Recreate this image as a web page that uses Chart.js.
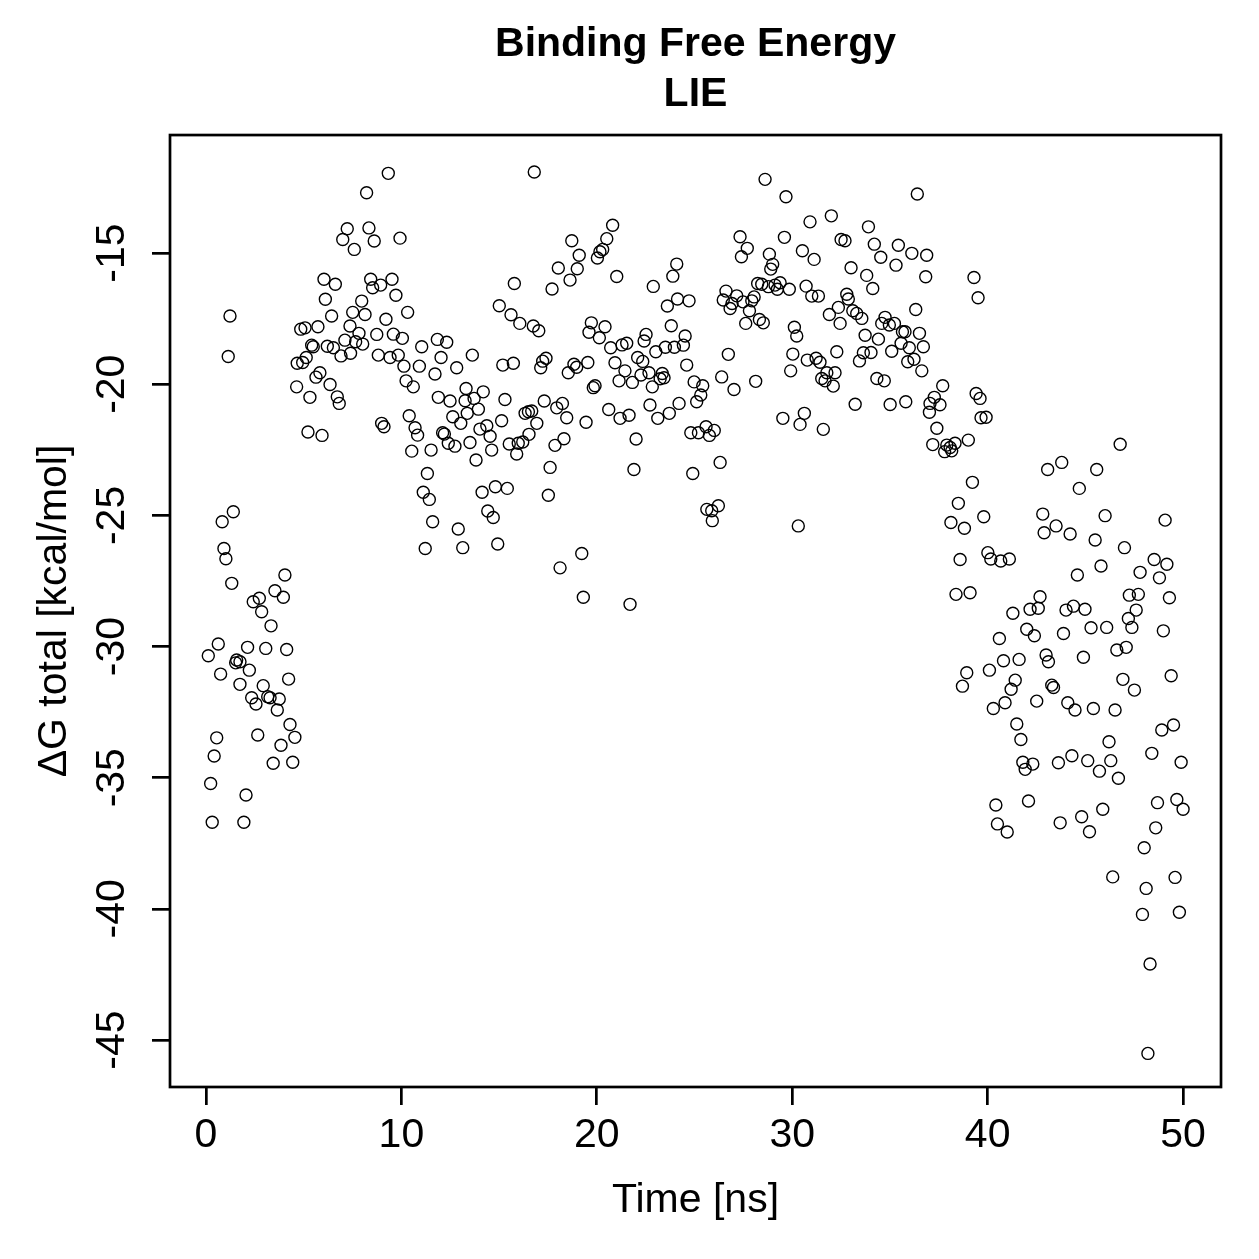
<!DOCTYPE html>
<html>
<head>
<meta charset="utf-8">
<script src="https://cdn.jsdelivr.net/npm/chart.js@4.4.1/dist/chart.umd.min.js"></script>
<style>
html,body{margin:0;padding:0;background:#fff;}
#wrap{width:1259px;height:1259px;}
</style>
</head>
<body>
<div id="wrap"><canvas id="c" width="1259" height="1259"></canvas></div>
<script>
const chartTitle = ['Binding Free Energy', 'LIE'];
const xAxisTitle = 'Time [ns]';
const yAxisTitle = 'ΔG total [kcal/mol]';
const xTicks = [0, 10, 20, 30, 40, 50];
const yTicks = [-45, -40, -35, -30, -25, -20, -15];

const timeNs = [
0.12,0.24,0.32,0.42,0.55,0.63,0.75,0.83,0.92,1.02,
1.14,1.23,1.32,1.40,1.52,1.57,1.74,1.74,1.94,2.05,
2.13,2.22,2.34,2.42,2.56,2.65,2.73,2.85,2.93,3.06,
3.16,3.28,3.33,3.44,3.53,3.65,3.75,3.84,3.96,4.04,
4.13,4.23,4.30,4.44,4.55,4.64,4.67,4.85,4.95,5.07,
5.13,5.22,5.32,5.41,5.49,5.63,5.73,5.83,5.94,6.04,
6.11,6.21,6.35,6.43,6.52,6.62,6.72,6.82,6.91,7.00,
7.11,7.23,7.37,7.40,7.51,7.59,7.66,7.83,7.97,8.02,
8.14,8.22,8.34,8.43,8.53,8.61,8.74,8.82,8.94,8.99,
9.11,9.21,9.33,9.42,9.52,9.59,9.72,9.84,9.93,10.05,
10.13,10.24,10.32,10.40,10.53,10.61,10.70,10.83,10.92,11.04,
11.12,11.22,11.33,11.43,11.52,11.60,11.72,11.84,11.89,12.03,
12.11,12.20,12.32,12.40,12.49,12.63,12.74,12.83,12.91,13.04,
13.14,13.26,13.31,13.37,13.51,13.63,13.72,13.82,13.94,14.02,
14.13,14.19,14.37,14.42,14.54,14.62,14.70,14.81,14.93,15.01,
15.13,15.19,15.30,15.42,15.52,15.61,15.73,15.78,15.90,15.98,
16.06,16.21,16.33,16.50,16.53,16.67,16.75,16.80,16.93,17.03,
17.13,17.23,17.31,17.40,17.52,17.61,17.71,17.86,17.95,18.03,
18.12,18.24,18.32,18.46,18.54,18.63,18.72,18.83,18.97,19.00,
19.10,19.23,19.31,19.45,19.54,19.60,19.72,19.82,19.91,20.03,
20.13,20.16,20.30,20.42,20.51,20.61,20.71,20.81,20.93,21.02,
21.14,21.19,21.29,21.44,21.53,21.65,21.70,21.82,21.90,22.01,
22.09,22.26,22.35,22.42,22.52,22.67,22.72,22.84,22.89,23.02,
23.12,23.24,23.35,23.44,23.51,23.61,23.71,23.81,23.89,23.97,
24.09,24.13,24.21,24.43,24.52,24.60,24.72,24.81,24.91,24.98,
25.11,25.20,25.32,25.42,25.59,25.63,25.76,25.88,25.91,26.01,
26.22,26.31,26.39,26.47,26.61,26.73,26.82,26.92,27.02,27.16,
27.33,27.40,27.48,27.62,27.70,27.81,27.93,28.05,28.13,28.23,
28.32,28.44,28.52,28.61,28.78,28.83,28.90,29.00,29.12,29.24,
29.38,29.52,29.60,29.68,29.85,29.92,30.03,30.11,30.23,30.31,
30.40,30.52,30.62,30.71,30.77,30.91,31.00,31.12,31.22,31.34,
31.42,31.51,31.59,31.68,31.77,31.90,32.00,32.10,32.19,32.28,
32.36,32.45,32.50,32.70,32.79,32.87,33.01,33.10,33.22,33.30,
33.44,33.56,33.64,33.73,33.81,33.90,34.03,34.12,34.20,34.33,
34.41,34.53,34.58,34.71,34.75,34.97,35.01,35.09,35.23,35.31,
35.43,35.57,35.64,35.77,35.81,35.91,35.99,36.12,36.23,36.32,
36.40,36.51,36.63,36.71,36.83,36.88,37.02,37.05,37.27,37.19,
37.40,37.56,37.70,37.91,37.80,38.08,38.16,38.33,38.38,38.50,
38.59,38.12,38.71,38.81,38.93,39.01,39.10,39.22,39.30,39.41,
39.51,39.61,39.66,39.80,39.92,40.01,40.09,40.16,40.29,40.42,
40.50,40.60,40.67,40.81,40.89,41.00,41.11,41.20,41.29,41.41,
41.49,41.61,41.70,41.80,41.92,42.00,42.09,42.17,42.31,42.39,
42.51,42.59,42.68,42.82,42.89,42.99,43.07,43.11,43.28,43.37,
43.50,43.62,43.71,43.79,43.88,44.01,44.10,44.22,44.31,44.39,
44.47,44.59,44.69,44.81,44.90,44.98,45.12,45.21,45.29,45.41,
45.50,45.58,45.72,45.80,45.89,46.01,46.09,46.21,46.30,46.40,
46.52,46.61,46.69,46.78,46.92,47.00,47.09,47.20,47.25,47.38,
47.51,47.60,47.71,47.80,47.92,48.01,48.11,48.20,48.31,48.40,
48.52,48.60,48.69,48.79,48.91,48.99,49.08,49.17,49.30,49.39,
49.51,49.59,49.68,49.81,49.90,50.00
];

const deltaG = [
-30.35,-35.22,-36.70,-34.17,-33.48,-29.90,-31.05,-25.24,-26.26,-26.65,
-18.94,-17.40,-27.59,-24.86,-30.62,-30.51,-30.58,-31.44,-36.70,-35.66,
-30.03,-30.90,-31.95,-28.29,-32.19,-33.37,-28.16,-28.67,-31.49,-30.07,
-31.91,-31.95,-29.21,-34.45,-27.87,-32.42,-32.00,-33.76,-28.12,-27.27,
-30.11,-31.24,-32.97,-34.41,-33.46,-20.10,-19.20,-17.90,-19.17,-17.85,
-18.98,-21.82,-20.50,-18.51,-18.57,-19.73,-17.81,-19.56,-21.95,-16.00,
-16.76,-18.55,-20.01,-17.40,-18.61,-16.19,-20.48,-20.73,-18.92,-14.48,
-18.32,-14.07,-17.78,-18.82,-17.26,-14.86,-18.38,-18.06,-16.83,-18.47,
-17.34,-12.70,-14.04,-16.00,-16.32,-14.54,-18.10,-18.89,-16.22,-21.49,
-21.62,-17.52,-11.96,-18.98,-16.00,-18.09,-16.61,-18.89,-14.43,-18.25,
-19.31,-19.87,-17.26,-21.20,-22.55,-20.10,-21.66,-21.94,-19.31,-18.57,
-24.12,-26.26,-23.40,-24.39,-22.51,-25.24,-19.61,-18.29,-20.50,-18.98,
-21.85,-21.90,-18.40,-22.25,-20.64,-21.24,-22.36,-19.37,-25.52,-21.49,
-26.23,-20.63,-20.16,-21.11,-22.22,-18.89,-20.54,-22.89,-20.95,-21.71,
-24.12,-20.29,-21.58,-24.83,-21.98,-22.51,-25.08,-23.91,-26.09,-17.01,
-21.39,-19.27,-20.58,-23.97,-22.28,-17.35,-19.20,-16.16,-22.66,-22.25,
-17.68,-22.20,-21.11,-21.05,-21.91,-21.02,-17.78,-11.91,-21.49,-17.96,
-19.37,-19.12,-20.64,-19.01,-24.23,-23.17,-16.37,-22.33,-20.90,-15.57,
-27.00,-20.73,-22.08,-21.28,-19.56,-16.03,-14.53,-19.24,-19.35,-15.60,
-15.08,-26.45,-28.12,-21.45,-19.17,-18.02,-17.66,-20.13,-20.06,-15.19,
-18.23,-14.95,-14.86,-17.81,-14.45,-20.96,-18.61,-13.94,-19.18,-15.89,
-19.87,-21.30,-18.50,-19.49,-18.44,-21.18,-28.39,-19.93,-23.25,-22.09,
-18.98,-19.65,-19.13,-18.35,-18.10,-19.56,-20.79,-20.10,-16.27,-18.76,
-21.30,-19.79,-19.59,-19.75,-18.59,-17.02,-21.11,-17.77,-15.88,-18.59,
-15.42,-16.75,-20.73,-18.51,-18.16,-19.27,-16.82,-21.85,-23.40,-19.91,
-20.67,-21.85,-20.41,-20.06,-21.62,-24.77,-21.95,-24.82,-25.20,-21.76,
-24.63,-22.98,-19.72,-16.79,-16.45,-18.86,-17.11,-16.92,-20.20,-16.63,
-14.38,-15.14,-16.86,-17.68,-14.82,-17.20,-16.82,-16.67,-19.89,-16.16,
-17.53,-16.19,-17.66,-12.19,-16.28,-15.04,-15.61,-15.43,-16.22,-16.38,
-16.13,-21.30,-14.40,-12.85,-16.38,-19.49,-18.85,-17.83,-18.16,-25.40,
-21.53,-14.91,-21.11,-16.26,-19.08,-13.81,-16.64,-15.24,-19.01,-16.64,
-19.16,-19.78,-21.72,-19.87,-19.56,-17.34,-13.58,-20.07,-19.56,-18.76,
-17.07,-17.68,-14.48,-14.53,-16.57,-16.75,-15.56,-17.20,-20.76,-17.30,
-19.11,-17.49,-18.80,-18.13,-15.85,-14.00,-18.79,-16.35,-14.66,-19.78,
-18.28,-15.16,-17.68,-19.87,-17.45,-17.74,-20.77,-18.74,-17.68,-15.46,
-14.70,-18.44,-18.00,-18.00,-20.67,-19.14,-18.61,-15.01,-19.05,-17.15,
-12.75,-18.06,-19.49,-18.57,-15.90,-15.08,-21.07,-20.73,-20.50,-22.30,
-21.68,-20.78,-20.06,-22.32,-22.57,-22.41,-22.54,-22.25,-28.01,-24.54,
-26.68,-25.27,-31.51,-25.49,-31.00,-22.13,-27.95,-23.74,-15.93,-20.35,
-16.70,-20.54,-21.28,-25.05,-21.26,-26.42,-30.90,-26.66,-32.36,-36.04,
-36.76,-29.69,-26.74,-30.54,-32.14,-37.07,-26.66,-31.63,-28.73,-31.28,
-32.95,-30.49,-33.54,-34.41,-34.68,-29.34,-35.89,-28.58,-34.48,-29.59,
-32.08,-28.54,-28.10,-24.95,-25.66,-30.32,-23.25,-30.58,-31.47,-31.56,
-25.40,-34.43,-36.72,-22.98,-29.50,-28.61,-32.14,-25.71,-34.16,-28.46,
-32.42,-27.27,-23.97,-36.49,-30.41,-28.58,-34.35,-37.06,-29.28,-32.36,
-25.94,-23.25,-34.75,-26.93,-36.20,-25.01,-29.27,-33.63,-34.35,-38.78,
-32.42,-30.13,-35.02,-22.29,-31.25,-26.23,-30.03,-28.93,-28.04,-29.27,
-31.66,-28.61,-28.01,-27.17,-40.21,-37.67,-39.22,-45.51,-42.10,-34.07,
-26.68,-36.91,-35.95,-27.38,-33.18,-29.40,-25.18,-26.86,-28.14,-31.11,
-32.99,-38.80,-35.83,-40.13,-34.41,-36.20
];

const FONT = "'Liberation Sans', Arial, Helvetica, sans-serif";
const AXIS_FONT_SIZE = 41;
Chart.defaults.font.family = FONT;
Chart.defaults.color = '#000';

const points = timeNs.map((t, i) => ({ x: t, y: deltaG[i] }));

const LINE_W = 2.7;

const frameAndYLabels = {
  id: 'frameAndYLabels',
  afterDraw(chart) {
    const ctx = chart.ctx;
    const a = chart.chartArea;
    ctx.save();
    ctx.strokeStyle = '#000';
    ctx.lineWidth = LINE_W;
    ctx.strokeRect(a.left, a.top, a.right - a.left, a.bottom - a.top);
    const ys = chart.scales.y;
    ctx.fillStyle = '#000';
    ctx.font = AXIS_FONT_SIZE + 'px ' + FONT;
    ctx.textAlign = 'center';
    ctx.textBaseline = 'alphabetic';
    ys.ticks.forEach(tk => {
      const py = ys.getPixelForValue(tk.value);
      ctx.save();
      ctx.translate(124, py);
      ctx.rotate(-Math.PI / 2);
      ctx.fillText(String(tk.value), 0, 0);
      ctx.restore();
    });
    ctx.restore();
  }
};

new Chart(document.getElementById('c'), {
  type: 'scatter',
  data: {
    datasets: [{
      data: points,
      pointStyle: 'circle',
      pointRadius: 6,
      pointHoverRadius: 6,
      borderColor: '#000',
      backgroundColor: 'rgba(0,0,0,0)',
      borderWidth: 1.4
    }]
  },
  options: {
    responsive: false,
    animation: false,
    devicePixelRatio: 1,
    layout: { padding: { left: 0, right: 38, top: 0, bottom: 0 } },
    plugins: {
      legend: { display: false },
      tooltip: { enabled: false },
      title: {
        display: true,
        text: chartTitle,
        fullSize: false,
        color: '#000',
        font: { family: FONT, size: 41, weight: 'bold', lineHeight: 1.22 },
        padding: { top: 20, bottom: 15 }
      }
    },
    scales: {
      x: {
        type: 'linear',
        min: -1.84,
        max: 51.94,
        afterBuildTicks: s => { s.ticks = xTicks.map(v => ({ value: v })); },
        afterFit: s => { s.height = 172; },
        grid: { drawOnChartArea: false, drawTicks: true, tickLength: 18, color: '#000', lineWidth: LINE_W },
        border: { display: false },
        ticks: { color: '#000', font: { size: AXIS_FONT_SIZE, family: FONT, lineHeight: 1.2 }, padding: 6, maxRotation: 0, minRotation: 0 },
        title: { display: true, text: xAxisTitle, color: '#000', font: { size: AXIS_FONT_SIZE, family: FONT, lineHeight: 1.2 }, padding: { top: 0, bottom: 34 } }
      },
      y: {
        type: 'linear',
        min: -46.79,
        max: -10.50,
        afterBuildTicks: s => { s.ticks = yTicks.map(v => ({ value: v })); },
        afterFit: s => { s.width = 170; },
        grid: { drawOnChartArea: false, drawTicks: true, tickLength: 18, color: '#000', lineWidth: LINE_W },
        border: { display: false },
        ticks: { display: false },
        title: { display: true, text: yAxisTitle, color: '#000', font: { size: AXIS_FONT_SIZE, family: FONT, lineHeight: 1.2 }, padding: { top: 30, bottom: 0 } }
      }
    }
  },
  plugins: [frameAndYLabels]
});
</script>
</body>
</html>
